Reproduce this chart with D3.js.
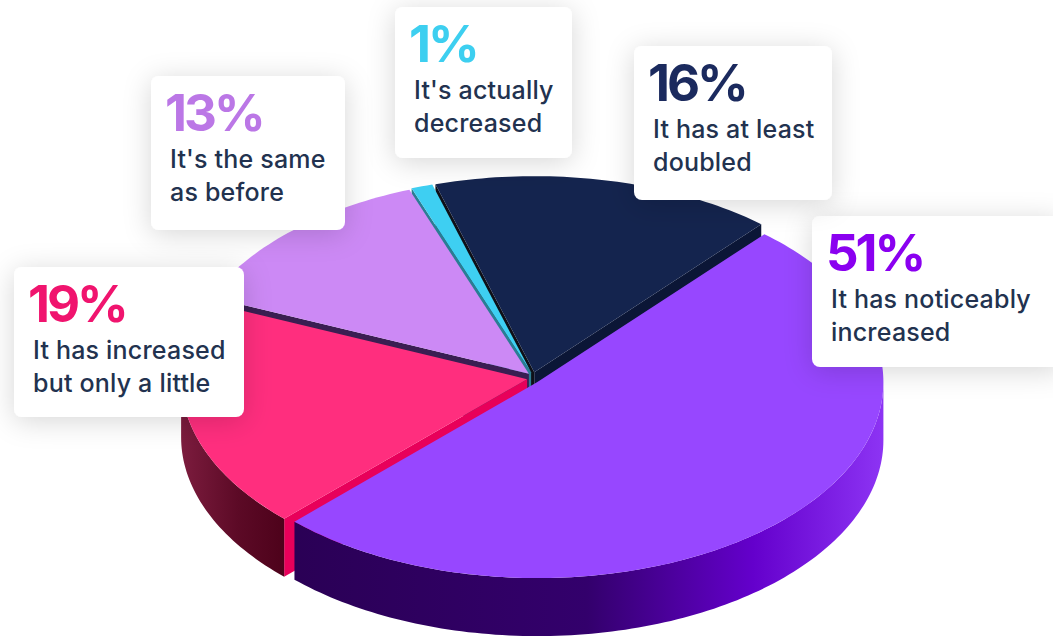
<!DOCTYPE html>
<html>
<head>
<meta charset="utf-8">
<script src="https://cdn.jsdelivr.net/npm/d3@7"></script>
<style>
  html, body { margin: 0; padding: 0; background: #fff; }
  svg { display: block; }
</style>
</head>
<body>
<script>
// data
const categories = ["It has noticeably increased", "It has increased but only a little",
  "It's the same as before", "It's actually decreased", "It has at least doubled"];
const values = [51, 19, 13, 1, 16];
const labelLines = [
  ["It has noticeably", "increased"],
  ["It has increased", "but only a little"],
  ["It's the same", "as before"],
  ["It's actually", "decreased"],
  ["It has at least", "doubled"]
];

// styles
const topColors   = ["#9747FF", "#FF2E7E", "#CC89F5", "#3ECFF2", "#14244E"];
const startWalls  = ["#6a1fd0", "#E8005A", "#3a1e52", "#2b7d94", "#0e1018"];
const endWalls    = ["#6a1fd0", "#c0104e", "#9a5cc8", "#2b7d94", "#0b1636"];
const sideColors  = ["url(#sidePurple)", "url(#sidePink)", "#8a50b0", "#2a8aa0", "#0a1530"];
const pctColors   = ["#8A00F0", "#F0146E", "#BB77E6", "#3DCFF0", "#1B2A5E"];

// label box layout: [x, y, w, h]
const boxes = [
  [812, 216, 250, 151],
  [14, 267, 230, 150],
  [151, 76, 194, 154],
  [395, 7, 177, 151],
  [634, 46, 198, 154]
];

const W = 1053, H = 638;
const cx = 533, cy = 378, rx = 346, ry = 196, depth = 58, explode = 6;

const svg = d3.select("body").append("svg")
  .attr("width", W).attr("height", H);

const defs = svg.append("defs");
const gP = defs.append("linearGradient").attr("id", "sidePurple")
  .attr("gradientUnits", "userSpaceOnUse").attr("x1", 290).attr("x2", 884).attr("y1", 0).attr("y2", 0);
[[0, "#2a0055"], [0.5, "#33006c"], [0.78, "#6400cc"], [1, "#8d34f4"]]
  .forEach(s => gP.append("stop").attr("offset", s[0]).attr("stop-color", s[1]));
const gK = defs.append("linearGradient").attr("id", "sidePink")
  .attr("gradientUnits", "userSpaceOnUse").attr("x1", 181).attr("x2", 295).attr("y1", 0).attr("y2", 0);
[[0, "#7c1c3e"], [0.5, "#5c0a26"], [1, "#4a0018"]]
  .forEach(s => gK.append("stop").attr("offset", s[0]).attr("stop-color", s[1]));
const sh = defs.append("filter").attr("id", "shadow")
  .attr("x", "-40%").attr("y", "-40%").attr("width", "180%").attr("height", "180%");
sh.append("feDropShadow").attr("dx", 0).attr("dy", 4).attr("stdDeviation", 14)
  .attr("flood-color", "#000").attr("flood-opacity", 0.16);

const start = 41 * Math.PI / 180;
const pie = d3.pie().sort(null).value(d => d)
  .startAngle(start).endAngle(start + 2 * Math.PI);
const arcs = pie(values).map((a, i) => {
  const mid = (a.startAngle + a.endAngle) / 2;
  return { ...a, i, mid, ox: explode * Math.sin(mid), oy: -explode * Math.cos(mid) };
});

const pt = (a, d, z) => [cx + d.ox + rx * Math.sin(a), cy + d.oy - ry * Math.cos(a) + z];
const ctr = (d, z) => [cx + d.ox, cy + d.oy + z];
const sample = (a0, a1, d, z) => {
  const n = Math.max(2, Math.ceil(Math.abs(a1 - a0) / 0.02));
  return d3.range(n + 1).map(k => pt(a0 + (a1 - a0) * k / n, d, z));
};
const line = d3.line();

const g = svg.append("g");

// paint back slices first, front slices last
const order = arcs.slice().sort((a, b) => Math.cos(b.mid) - Math.cos(a.mid));

order.forEach(d => {
  const sg = g.append("g");
  // radial walls facing the viewer
  if (Math.sin(d.startAngle) < 0)
    sg.append("path")
      .attr("d", line([ctr(d, 0), pt(d.startAngle, d, 0), pt(d.startAngle, d, depth), ctr(d, depth)]) + "Z")
      .attr("fill", startWalls[d.i]);
  if (Math.sin(d.endAngle) > 0)
    sg.append("path")
      .attr("d", line([ctr(d, 0), pt(d.endAngle, d, 0), pt(d.endAngle, d, depth), ctr(d, depth)]) + "Z")
      .attr("fill", endWalls[d.i]);
  // outer wall, front half only
  [[Math.PI / 2, 3 * Math.PI / 2], [5 * Math.PI / 2, 7 * Math.PI / 2]].forEach(([v0, v1]) => {
    const s = Math.max(d.startAngle, v0), e = Math.min(d.endAngle, v1);
    if (e <= s) return;
    const pts = sample(s, e, d, 0).concat(sample(e, s, d, depth));
    sg.append("path").attr("d", line(pts) + "Z").attr("fill", sideColors[d.i]);
  });
  // top
  const pts = [ctr(d, 0)].concat(sample(d.startAngle, d.endAngle, d, 0));
  sg.append("path").attr("d", line(pts) + "Z").attr("fill", topColors[d.i]);
});

// label boxes
const font = "Inter, 'Noto Sans', sans-serif";
const lab = svg.append("g").selectAll("g").data(arcs).join("g")
  .attr("transform", d => `translate(${boxes[d.i][0]},${boxes[d.i][1]})`);
lab.append("rect")
  .attr("width", d => boxes[d.i][2]).attr("height", d => boxes[d.i][3])
  .attr("rx", 8).attr("fill", "#fff").attr("filter", "url(#shadow)");
lab.append("text")
  .attr("x", 14).attr("y", 55)
  .attr("font-family", font).attr("font-weight", 700).attr("font-size", 51)
  .attr("letter-spacing", -3)
  .attr("fill", d => pctColors[d.i])
  .text(d => d.data + "%");
lab.each(function (d) {
  d3.select(this).selectAll("text.desc").data(labelLines[d.i]).join("text")
    .attr("class", "desc")
    .attr("x", 19).attr("y", (t, k) => 92 + k * 33)
    .attr("font-family", font).attr("font-weight", 500).attr("font-size", 25)
    .attr("letter-spacing", 0.2)
    .attr("fill", "#22324f")
    .text(t => t);
});
</script>
</body>
</html>
